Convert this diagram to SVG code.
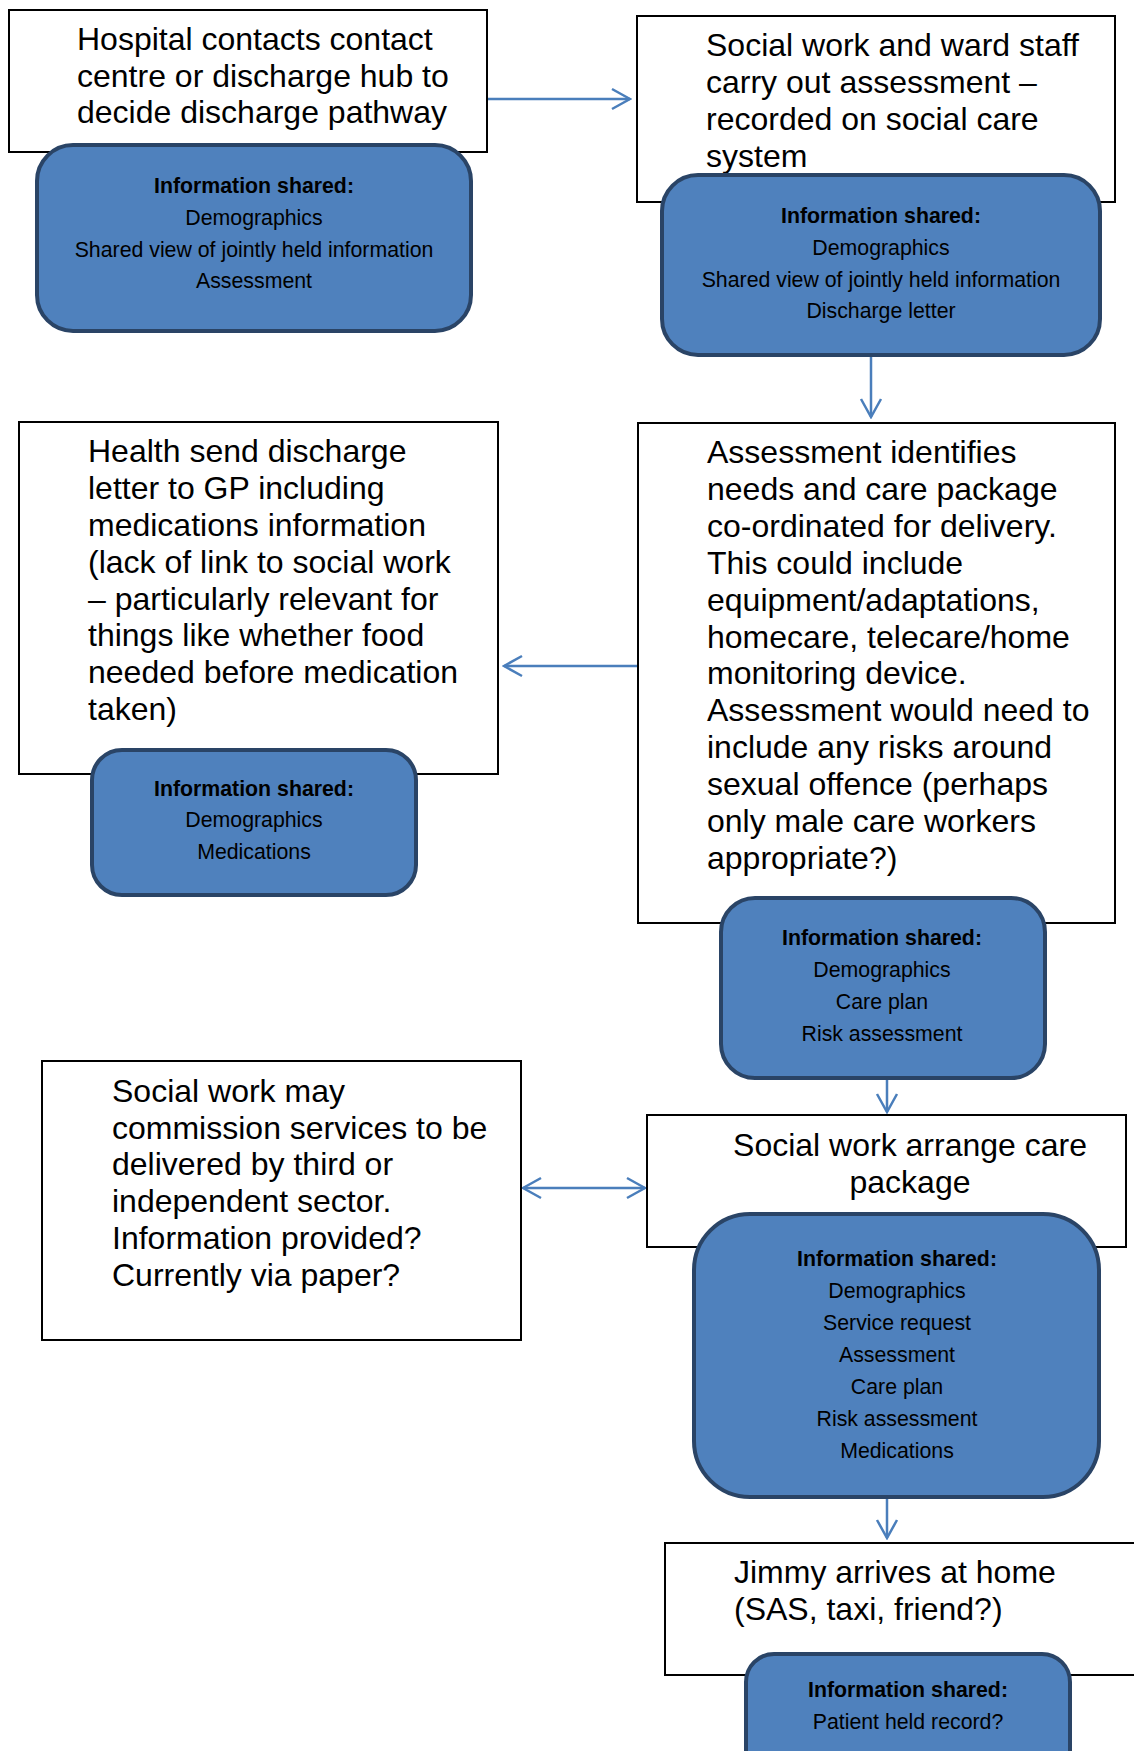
<svg xmlns="http://www.w3.org/2000/svg" width="1134" height="1751" viewBox="0 0 1134 1751">
<defs>
<style>
.box{fill:#fff;stroke:#000;stroke-width:2}
.info{fill:#4f81bd;stroke:#2a4466;stroke-width:4}
.t{font-family:"Liberation Sans",Arial,sans-serif;font-size:32px;fill:#000}
.s{font-family:"Liberation Sans",Arial,sans-serif;font-size:21.3px;fill:#000;text-anchor:middle}
.b{font-weight:bold}
.c{fill:none;stroke:#4a7ebb;stroke-width:2.5}
</style>
<marker id="ah" viewBox="-20 -12 22 24" refX="0" refY="0" markerWidth="22" markerHeight="24" markerUnits="userSpaceOnUse" orient="auto-start-reverse">
<path d="M-18,-10 L0,0 L-18,10" fill="none" stroke="#4a7ebb" stroke-width="2.5"/>
</marker>
</defs>
<rect width="1134" height="1751" fill="#fff"/>
<g id="connectors">
<line class="c" x1="488" y1="99" x2="630" y2="99" marker-end="url(#ah)"/>
<line class="c" x1="871" y1="356" x2="871" y2="417" marker-end="url(#ah)"/>
<line class="c" x1="637" y1="666" x2="504" y2="666" marker-end="url(#ah)"/>
<line class="c" x1="887" y1="1079" x2="887" y2="1112" marker-end="url(#ah)"/>
<line class="c" x1="523" y1="1188" x2="645" y2="1188" marker-start="url(#ah)" marker-end="url(#ah)"/>
<line class="c" x1="887" y1="1498" x2="887" y2="1538" marker-end="url(#ah)"/>
</g>
<g id="node1">
<rect class="box" x="9" y="10" width="478" height="142"/>
<text class="t"><tspan x="77" y="50">Hospital contacts contact</tspan><tspan x="77" y="87">centre or discharge hub to</tspan><tspan x="77" y="123">decide discharge pathway</tspan></text>
</g>
<g id="info1">
<rect class="info" x="37" y="145" width="434" height="186" rx="36"/>
<text class="s"><tspan class="b" x="254" y="193">Information shared:</tspan><tspan x="254" y="225">Demographics</tspan><tspan x="254" y="257">Shared view of jointly held information</tspan><tspan x="254" y="288">Assessment</tspan></text>
</g>
<g id="node2">
<rect class="box" x="637" y="16" width="478" height="186"/>
<text class="t"><tspan x="706" y="56">Social work and ward staff</tspan><tspan x="706" y="93">carry out assessment –</tspan><tspan x="706" y="130">recorded on social care</tspan><tspan x="706" y="167">system</tspan></text>
</g>
<g id="info2">
<rect class="info" x="662" y="175" width="438" height="180" rx="36"/>
<text class="s"><tspan class="b" x="881" y="223">Information shared:</tspan><tspan x="881" y="255">Demographics</tspan><tspan x="881" y="287">Shared view of jointly held information</tspan><tspan x="881" y="318">Discharge letter</tspan></text>
</g>
<g id="node3">
<rect class="box" x="19" y="422" width="479" height="352"/>
<text class="t"><tspan x="88" y="462">Health send discharge</tspan><tspan x="88" y="499">letter to GP including</tspan><tspan x="88" y="536">medications information</tspan><tspan x="88" y="573">(lack of link to social work</tspan><tspan x="88" y="610">– particularly relevant for</tspan><tspan x="88" y="646">things like whether food</tspan><tspan x="88" y="683">needed before medication</tspan><tspan x="88" y="720">taken)</tspan></text>
</g>
<g id="info3">
<rect class="info" x="92" y="750" width="324" height="145" rx="30"/>
<text class="s"><tspan class="b" x="254" y="796">Information shared:</tspan><tspan x="254" y="827">Demographics</tspan><tspan x="254" y="859">Medications</tspan></text>
</g>
<g id="node4">
<rect class="box" x="638" y="423" width="477" height="500"/>
<text class="t"><tspan x="707" y="463">Assessment identifies</tspan><tspan x="707" y="500">needs and care package</tspan><tspan x="707" y="537">co-ordinated for delivery.</tspan><tspan x="707" y="574">This could include</tspan><tspan x="707" y="611">equipment/adaptations,</tspan><tspan x="707" y="648">homecare, telecare/home</tspan><tspan x="707" y="684">monitoring device.</tspan><tspan x="707" y="721">Assessment would need to</tspan><tspan x="707" y="758">include any risks around</tspan><tspan x="707" y="795">sexual offence (perhaps</tspan><tspan x="707" y="832">only male care workers</tspan><tspan x="707" y="869">appropriate?)</tspan></text>
</g>
<g id="info4">
<rect class="info" x="721" y="898" width="324" height="180" rx="34"/>
<text class="s"><tspan class="b" x="882" y="945">Information shared:</tspan><tspan x="882" y="977">Demographics</tspan><tspan x="882" y="1009">Care plan</tspan><tspan x="882" y="1041">Risk assessment</tspan></text>
</g>
<g id="node5">
<rect class="box" x="42" y="1061" width="479" height="279"/>
<text class="t"><tspan x="112" y="1102">Social work may</tspan><tspan x="112" y="1139">commission services to be</tspan><tspan x="112" y="1175">delivered by third or</tspan><tspan x="112" y="1212">independent sector.</tspan><tspan x="112" y="1249">Information provided?</tspan><tspan x="112" y="1286">Currently via paper?</tspan></text>
</g>
<g id="node6">
<rect class="box" x="647" y="1115" width="479" height="132"/>
<text class="t" text-anchor="middle"><tspan x="910" y="1156">Social work arrange care</tspan><tspan x="910" y="1193">package</tspan></text>
</g>
<g id="info6">
<rect class="info" x="694" y="1214" width="405" height="283" rx="56"/>
<text class="s"><tspan class="b" x="897" y="1266">Information shared:</tspan><tspan x="897" y="1298">Demographics</tspan><tspan x="897" y="1330">Service request</tspan><tspan x="897" y="1362">Assessment</tspan><tspan x="897" y="1394">Care plan</tspan><tspan x="897" y="1426">Risk assessment</tspan><tspan x="897" y="1458">Medications</tspan></text>
</g>
<g id="node7">
<rect class="box" x="665" y="1543" width="500" height="132"/>
<text class="t"><tspan x="734" y="1583">Jimmy arrives at home</tspan><tspan x="734" y="1620">(SAS, taxi, friend?)</tspan></text>
</g>
<g id="info7">
<rect class="info" x="746" y="1654" width="324" height="150" rx="28"/>
<text class="s"><tspan class="b" x="908" y="1697">Information shared:</tspan><tspan x="908" y="1729">Patient held record?</tspan></text>
</g>
</svg>
